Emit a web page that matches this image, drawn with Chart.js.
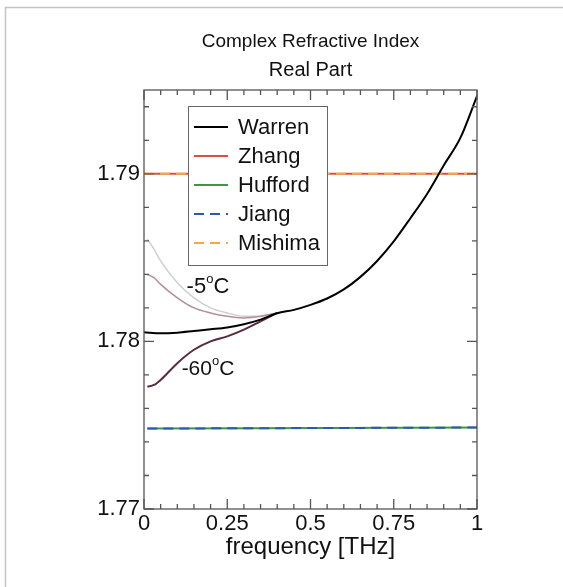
<!DOCTYPE html>
<html>
<head>
<meta charset="utf-8">
<script src="https://cdn.jsdelivr.net/npm/chart.js@4.4.1/dist/chart.umd.min.js"></script>
<style>
  html, body { margin: 0; padding: 0; background: #fff; }
  #wrap { width: 563px; height: 587px; }
</style>
</head>
<body>
<div id="wrap"><canvas id="chart" width="563" height="587"></canvas></div>
<script>
// --- DATA ---
const warrenFreq = [0, 0.05, 0.1, 0.15, 0.2, 0.25, 0.3, 0.35, 0.4, 0.45, 0.5, 0.55, 0.6, 0.65, 0.7, 0.75, 0.8, 0.85, 0.9, 0.95, 1.0];
const warrenVals = [1.78054, 1.78048, 1.78052, 1.78062, 1.78072, 1.78083, 1.78102, 1.78130, 1.78168, 1.78188, 1.78218, 1.78256, 1.78310, 1.78385, 1.78480, 1.78597, 1.78735, 1.78880, 1.79050, 1.79214, 1.79464];

const flatFreq = [0, 1];
const zhangVals = [1.79, 1.79];
const mishimaVals = [1.79, 1.79];
const huffordFreq = [0.01, 1];
const huffordVals = [1.7748, 1.77486];
const jiangVals = [1.7748, 1.77486];

// temperature dependent curves, low frequency end
const tempFreq = [0.01, 0.03, 0.05, 0.1, 0.15, 0.2, 0.25, 0.3, 0.35, 0.4];
const warm5Light = [1.7861, 1.7855, 1.7848, 1.7835, 1.7826, 1.7820, 1.7817, 1.7815, 1.7815, 1.7817];
const warm5Dark = [1.7840, 1.7838, 1.7834, 1.7826, 1.7820, 1.7817, 1.7815, 1.7814, 1.7815, 1.7817];
const cold60 = [1.7773, 1.7774, 1.7777, 1.7787, 1.7795, 1.7800, 1.7803, 1.7807, 1.7812, 1.7817];

const xTicks = [0, 0.25, 0.5, 0.75, 1];
const yTicks = [1.77, 1.78, 1.79];

const FONT = "'Liberation Sans', Arial, Helvetica, sans-serif";

function pts(xs, ys) {
    return xs.map((x, i) => ({ x: x, y: ys[i] }));
}

// --- PLUGINS ---

// frame with inward ticks on all four sides, titles, labels and legend
const framePlugin = {
    id: 'frame',
    beforeDraw(chart) {
        const c = chart.ctx;
        c.save();
        c.fillStyle = '#fff';
        c.fillRect(0, 0, chart.width, chart.height);
        c.strokeStyle = '#c4c4c4';
        c.lineWidth = 1.5;
        c.beginPath();
        c.moveTo(5.5, chart.height);
        c.lineTo(5.5, 7.5);
        c.lineTo(chart.width, 7.5);
        c.stroke();
        c.restore();
    },
    afterDraw(chart) {
        const c = chart.ctx;
        const a = chart.chartArea;
        const xs = chart.scales.x, ys = chart.scales.y;
        c.save();
        c.strokeStyle = '#555';
        c.lineWidth = 1.3;
        c.strokeRect(a.left, a.top, a.right - a.left, a.bottom - a.top);
        c.beginPath();
        for (let i = 0; i <= 20; i++) {
            const px = xs.getPixelForValue(i * 0.05);
            const len = (i % 5 === 0) ? 10 : 5;
            c.moveTo(px, a.bottom); c.lineTo(px, a.bottom - len);
            c.moveTo(px, a.top); c.lineTo(px, a.top + len);
        }
        for (let i = 0; i <= 12; i++) {
            const py = ys.getPixelForValue(1.77 + i * 0.002);
            const len = (i % 5 === 0) ? 10 : 5;
            c.moveTo(a.left, py); c.lineTo(a.left + len, py);
            c.moveTo(a.right, py); c.lineTo(a.right - len, py);
        }
        c.stroke();

        // titles
        const cx = (a.left + a.right) / 2;
        c.fillStyle = '#111';
        c.textAlign = 'center';
        c.textBaseline = 'middle';
        c.font = '19px ' + FONT;
        c.fillText('Complex Refractive Index', cx, 42);
        c.font = '20px ' + FONT;
        c.fillText('Real Part', cx, 70);

        // temperature labels
        drawTemp(c, xs.getPixelForValue(0.128), ys.getPixelForValue(1.78322), '-5', 22);
        drawTemp(c, xs.getPixelForValue(0.113), ys.getPixelForValue(1.77835), '-60', 21);

        // legend box
        const lx = a.left + 44, ly = a.top + 16, lw = 139, lh = 159;
        c.fillStyle = '#fff';
        c.fillRect(lx, ly, lw, lh);
        c.strokeStyle = '#666';
        c.lineWidth = 1;
        c.strokeRect(lx + 0.5, ly + 0.5, lw, lh);
        const items = chart.data.datasets.filter(d => d.inLegend);
        c.font = '22px ' + FONT;
        c.textAlign = 'left';
        items.forEach((d, i) => {
            const y = ly + 21 + i * 29;
            c.strokeStyle = d.borderColor;
            c.lineWidth = 2;
            c.setLineDash(d.borderDash || []);
            c.beginPath();
            c.moveTo(lx + 6, y); c.lineTo(lx + 40, y);
            c.stroke();
            c.setLineDash([]);
            c.fillStyle = '#111';
            c.fillText(d.label, lx + 50, y + 1);
        });
        c.restore();
    }
};

function drawTemp(c, x, y, num, size) {
    c.save();
    c.fillStyle = '#111';
    c.textAlign = 'left';
    c.textBaseline = 'middle';
    c.font = size + 'px ' + FONT;
    c.fillText(num, x, y);
    let w = c.measureText(num).width;
    c.font = '13px ' + FONT;
    c.fillText('o', x + w, y - 8);
    w += c.measureText('o').width;
    c.font = size + 'px ' + FONT;
    c.fillText('C', x + w, y);
    c.restore();
}

// --- CHART ---
const ctx = document.getElementById('chart').getContext('2d');
new Chart(ctx, {
    type: 'line',
    data: {
        datasets: [
            { label: 'Warren', inLegend: true, data: pts(warrenFreq, warrenVals), borderColor: '#000', borderWidth: 2, order: 1 },
            { label: 'Zhang', inLegend: true, data: pts(flatFreq, zhangVals), borderColor: '#d9503f', borderWidth: 2, order: 6 },
            { label: 'Hufford', inLegend: true, data: pts(huffordFreq, huffordVals), borderColor: '#3c9a3c', borderWidth: 2, order: 6 },
            { label: 'Jiang', inLegend: true, data: pts(huffordFreq, jiangVals), borderColor: '#2f56b0', borderWidth: 2, borderDash: [10, 6], order: 5 },
            { label: 'Mishima', inLegend: true, data: pts(flatFreq, mishimaVals), borderColor: '#f2a848', borderWidth: 2, borderDash: [10, 6], order: 5 },
            { label: '-5C light', data: pts(tempFreq, warm5Light), borderColor: '#cfcfcf', borderWidth: 1.5, order: 4 },
            { label: '-5C dark', data: pts(tempFreq, warm5Dark), borderColor: '#b48d9b', borderWidth: 1.5, order: 3 },
            { label: '-60C', data: pts(tempFreq, cold60), borderColor: '#5a2a40', borderWidth: 2, order: 2 }
        ]
    },
    options: {
        responsive: false,
        animation: false,
        layout: { padding: { top: 90, right: 86, left: 0, bottom: 0 } },
        elements: {
            point: { radius: 0 },
            line: { cubicInterpolationMode: 'monotone', fill: false }
        },
        scales: {
            x: {
                type: 'linear', min: 0, max: 1,
                grid: { display: false, drawTicks: false, tickLength: 0 }, border: { display: false },
                afterBuildTicks: s => { s.ticks = xTicks.map(v => ({ value: v })); },
                afterFit: s => { s.height = 78; },
                ticks: { color: '#111', font: { family: FONT, size: 22 }, padding: 2, maxRotation: 0,
                         callback: v => String(v) },
                title: { display: true, text: 'frequency [THz]', color: '#111',
                         font: { family: FONT, size: 24 }, padding: { top: 0, bottom: 25 } }
            },
            y: {
                type: 'linear', min: 1.77, max: 1.795,
                grid: { display: false, drawTicks: false, tickLength: 0 }, border: { display: false },
                afterBuildTicks: s => { s.ticks = yTicks.map(v => ({ value: v })); },
                afterFit: s => { s.width = 144; },
                ticks: { color: '#111', font: { family: FONT, size: 22 }, padding: 4,
                         callback: v => v.toFixed(2) }
            }
        },
        plugins: {
            legend: { display: false },
            tooltip: { enabled: false }
        }
    },
    plugins: [framePlugin]
});
</script>
</body>
</html>
